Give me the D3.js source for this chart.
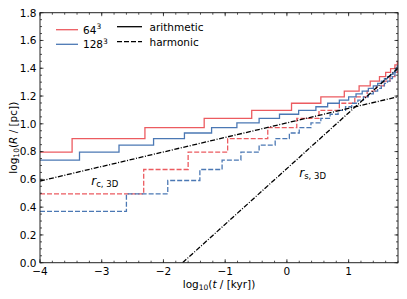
<!DOCTYPE html>
<html>
<head>
<meta charset="utf-8">
<script src="https://cdn.jsdelivr.net/npm/d3@7"></script>
<style>
  body { margin: 0; background: #fff; }
  text { font-family: "DejaVu Sans", sans-serif; fill: #000; }
</style>
</head>
<body>
<div id="chart"></div>
<script>
// step series: time breakpoints (log10 t) and radius levels (log10 R)
var red64ArithT = [-4, -3.48, -2.30, -1.34, -0.57, 0.075, 0.55, 0.93, 1.17, 1.35, 1.50, 1.60, 1.68, 1.75, 1.79];
var red64ArithR = [0.796, 0.893, 0.972, 1.039, 1.097, 1.148, 1.194, 1.236, 1.273, 1.308, 1.340, 1.370, 1.398, 1.424, 1.449];

var red64HarmT = [-4, -2.32, -1.60, -0.96, -0.31, 0.16, 0.52, 0.85, 1.10, 1.30, 1.45, 1.57, 1.67, 1.75, 1.79];
var red64HarmR = [0.495, 0.671, 0.796, 0.893, 0.972, 1.039, 1.097, 1.148, 1.194, 1.236, 1.273, 1.308, 1.340, 1.370, 1.410];

var blue128ArithT = [-4, -3.36, -2.72, -2.16, -1.66, -1.22, -0.81, -0.45, -0.12, 0.19, 0.47, 0.66, 0.85, 1.00, 1.12,
  1.22, 1.32, 1.40, 1.47, 1.53, 1.58, 1.63, 1.68, 1.72, 1.76, 1.79];
var blue128ArithR = [0.738, 0.796, 0.847, 0.893, 0.934, 0.972, 1.007, 1.039, 1.069, 1.097, 1.123, 1.148, 1.171, 1.194, 1.215,
  1.236, 1.255, 1.273, 1.291, 1.308, 1.325, 1.340, 1.356, 1.370, 1.398, 1.418];

var blue128HarmT = [-4, -2.60, -1.93, -1.41, -1.05, -0.745, -0.45, -0.19, 0.04, 0.20, 0.39, 0.55, 0.70, 0.83, 0.95,
  1.05, 1.15, 1.24, 1.32, 1.40, 1.47, 1.53, 1.58, 1.63, 1.67, 1.71, 1.75, 1.78];
var blue128HarmR = [0.370, 0.495, 0.592, 0.671, 0.738, 0.796, 0.847, 0.893, 0.934, 0.972, 1.007, 1.039, 1.069, 1.097, 1.123,
  1.148, 1.171, 1.194, 1.215, 1.236, 1.255, 1.273, 1.291, 1.308, 1.325, 1.340, 1.370, 1.405];

// analytic reference lines, endpoints
var rcT = [-4, 1.8], rcR = [0.588, 1.195];
var rsT = [-1.69, 1.8], rsR = [0.0, 1.40];

var xTicks = [-4, -3, -2, -1, 0, 1];
var yTicks = [0, 0.2, 0.4, 0.6, 0.8, 1.0, 1.2, 1.4, 1.6, 1.8];

var RED = '#ec5b60', BLUE = '#4b78b4';

var W = 407, H = 299;
var margin = {left: 40, right: 9, top: 12.7, bottom: 36.3};

var svg = d3.select('#chart').append('svg').attr('width', W).attr('height', H);

var x = d3.scaleLinear().domain([-4, 1.8]).range([margin.left, W - margin.right]);
var y = d3.scaleLinear().domain([0, 1.8]).range([H - margin.bottom, margin.top]);

svg.append('clipPath').attr('id', 'plotclip')
  .append('rect')
    .attr('x', x(-4)).attr('y', y(1.8))
    .attr('width', x(1.8) - x(-4)).attr('height', y(0) - y(1.8));

var plot = svg.append('g').attr('clip-path', 'url(#plotclip)');

function zipSteps(ts, rs) {
  var pts = ts.map(function (t, i) { return [t, rs[i]]; });
  pts.push([1.8, rs[rs.length - 1]]);
  return pts;
}

var stepLine = d3.line()
    .x(function (d) { return x(d[0]); })
    .y(function (d) { return y(d[1]); })
    .curve(d3.curveStepAfter);
var straight = d3.line()
    .x(function (d) { return x(d[0]); })
    .y(function (d) { return y(d[1]); });

var series = [
  {t: red64HarmT, r: red64HarmR, color: RED, dash: '5,2'},
  {t: blue128HarmT, r: blue128HarmR, color: BLUE, dash: '5,2'},
  {t: red64ArithT, r: red64ArithR, color: RED, dash: null},
  {t: blue128ArithT, r: blue128ArithR, color: BLUE, dash: null}
];

series.forEach(function (s) {
  plot.append('path')
      .attr('d', stepLine(zipSteps(s.t, s.r)))
      .attr('fill', 'none')
      .attr('stroke', s.color)
      .attr('stroke-width', 1.3)
      .attr('stroke-dasharray', s.dash);
});

[[rcT, rcR], [rsT, rsR]].forEach(function (l) {
  plot.append('path')
      .attr('d', straight(l[0].map(function (t, i) { return [t, l[1][i]]; })))
      .attr('fill', 'none')
      .attr('stroke', '#000')
      .attr('stroke-width', 1.3)
      .attr('stroke-dasharray', '5,1.6,1,1.6');
});

// frame
svg.append('rect')
    .attr('x', x(-4)).attr('y', y(1.8))
    .attr('width', x(1.8) - x(-4)).attr('height', y(0) - y(1.8))
    .attr('fill', 'none').attr('stroke', '#222').attr('stroke-width', 1);

// inward ticks on all four sides
var xMinor = d3.range(-4, 1.81, 0.2), yMinor = d3.range(0, 1.801, 0.05);
var ticks = svg.append('g').attr('stroke', '#222').attr('stroke-width', 0.8);
function tickSet(vals, len, axis) {
  vals.forEach(function (v) {
    if (axis === 'x') {
      var px = x(v);
      ticks.append('line').attr('x1', px).attr('x2', px).attr('y1', y(0)).attr('y2', y(0) - len);
      ticks.append('line').attr('x1', px).attr('x2', px).attr('y1', y(1.8)).attr('y2', y(1.8) + len);
    } else {
      var py = y(v);
      ticks.append('line').attr('y1', py).attr('y2', py).attr('x1', x(-4)).attr('x2', x(-4) + len);
      ticks.append('line').attr('y1', py).attr('y2', py).attr('x1', x(1.8)).attr('x2', x(1.8) - len);
    }
  });
}
tickSet(xMinor, 2, 'x');
tickSet(xTicks, 3.5, 'x');
tickSet(yMinor, 2, 'y');
tickSet(yTicks, 3.5, 'y');

svg.append('g').selectAll('text').data(xTicks).enter().append('text')
    .attr('x', function (d) { return x(d); })
    .attr('y', 274.5)
    .attr('text-anchor', 'middle')
    .attr('font-size', 10.5)
    .text(function (d) { return d < 0 ? '\u2212' + Math.abs(d) : d; });

svg.append('g').selectAll('text').data(yTicks).enter().append('text')
    .attr('x', 36.5)
    .attr('y', function (d) { return y(d) + 3.8; })
    .attr('text-anchor', 'end')
    .attr('font-size', 10.5)
    .text(function (d) { return d.toFixed(1); });

// axis labels
var xl = svg.append('text').attr('x', (x(-4) + x(1.8)) / 2).attr('y', 287.5)
    .attr('text-anchor', 'middle').attr('font-size', 10.5);
xl.append('tspan').text('log');
xl.append('tspan').attr('font-size', 7.5).attr('dy', 2.5).text('10');
xl.append('tspan').attr('dy', -2.5).text('(');
xl.append('tspan').attr('font-style', 'italic').text('t');
xl.append('tspan').text(' / [kyr])');

var yl = svg.append('text').attr('transform', 'translate(16.5,' + (y(0.9)) + ') rotate(-90)')
    .attr('text-anchor', 'middle').attr('font-size', 10.5);
yl.append('tspan').text('log');
yl.append('tspan').attr('font-size', 7.5).attr('dy', 2.5).text('10');
yl.append('tspan').attr('dy', -2.5).text('(');
yl.append('tspan').attr('font-style', 'italic').text('R');
yl.append('tspan').text(' / [pc])');

// line annotations
function annot(px, py, sub) {
  var t = svg.append('text').attr('x', px).attr('y', py).attr('font-size', 12);
  t.append('tspan').attr('font-style', 'italic').text('r');
  t.append('tspan').attr('font-size', 8.5).attr('dy', 2.5).text(sub);
}
annot(x(-3.17), y(0.56), 'c, 3D');
annot(x(0.20), y(0.62), 's, 3D');

// legend
var legendColors = [{label: '64', color: RED, ly: 29.7}, {label: '128', color: BLUE, ly: 44.3}];
legendColors.forEach(function (d) {
  svg.append('line').attr('x1', 56).attr('x2', 78).attr('y1', d.ly).attr('y2', d.ly)
      .attr('stroke', d.color).attr('stroke-width', 1.3);
  var t = svg.append('text').attr('x', 83).attr('y', d.ly + 4).attr('font-size', 10.5);
  t.append('tspan').text(d.label);
  t.append('tspan').attr('font-size', 7.5).attr('dy', -4.5).text('3');
});
var legendStyles = [{label: 'arithmetic', dash: null, ly: 26.7}, {label: 'harmonic', dash: '5,2', ly: 41.7}];
legendStyles.forEach(function (d) {
  svg.append('line').attr('x1', 117).attr('x2', 142).attr('y1', d.ly).attr('y2', d.ly)
      .attr('stroke', '#000').attr('stroke-width', 1.3).attr('stroke-dasharray', d.dash);
  svg.append('text').attr('x', 149.5).attr('y', d.ly + 4).attr('font-size', 10.5).text(d.label);
});
</script>
</body>
</html>
